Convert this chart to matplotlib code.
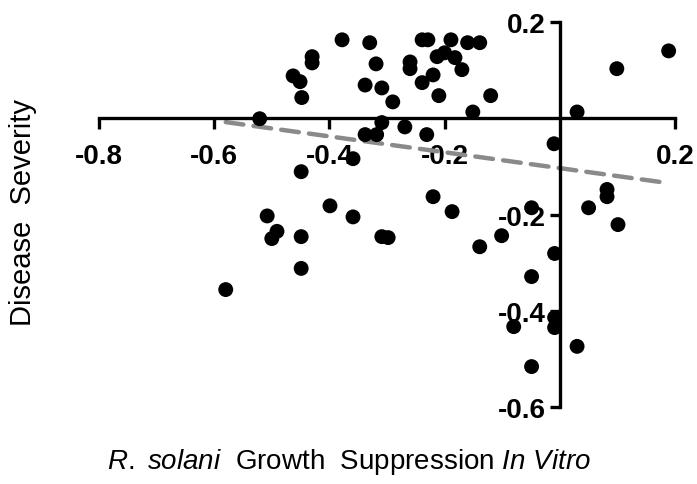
import numpy as np
import matplotlib
matplotlib.use("Agg")
import matplotlib.pyplot as plt

plt.rcParams['font.family'] = ['Liberation Sans', 'DejaVu Sans']
plt.rcParams['mathtext.fontset'] = 'custom'
plt.rcParams['mathtext.rm'] = 'Liberation Sans'
plt.rcParams['mathtext.it'] = 'Liberation Sans:italic'

# growth suppression (x) vs disease severity (y), one point per isolate
suppression = [-0.378, -0.330, -0.430, -0.430, -0.319, -0.463, -0.451, -0.448,
               -0.338, -0.309, -0.290, -0.260, -0.260, -0.239, -0.229, -0.189,
               -0.160, -0.139, -0.213, -0.200, -0.182, -0.170, -0.220, -0.239,
               -0.210, -0.120, -0.151, -0.309, -0.269, -0.338, -0.318, -0.231,
               -0.521, 0.030, 0.099, 0.189, -0.010, -0.359, -0.449, -0.399,
               -0.508, -0.359, -0.491, -0.500, -0.449, -0.449, -0.309, -0.298,
               -0.580, -0.220, -0.187, -0.049, 0.050, 0.082, 0.082, 0.101,
               -0.101, -0.139, -0.009, -0.049, -0.009, -0.009, -0.080, 0.030,
               -0.049]
severity = [0.163, 0.157, 0.128, 0.115, 0.113, 0.088, 0.076, 0.043,
            0.069, 0.063, 0.034, 0.117, 0.103, 0.163, 0.163, 0.163,
            0.157, 0.157, 0.128, 0.136, 0.126, 0.101, 0.090, 0.074,
            0.047, 0.047, 0.013, -0.009, -0.018, -0.034, -0.034, -0.034,
            -0.001, 0.013, 0.103, 0.140, -0.053, -0.084, -0.111, -0.182,
            -0.203, -0.205, -0.235, -0.250, -0.246, -0.312, -0.246, -0.248,
            -0.356, -0.163, -0.194, -0.186, -0.186, -0.148, -0.163, -0.221,
            -0.244, -0.267, -0.281, -0.329, -0.414, -0.435, -0.433, -0.474,
            -0.516]

# linear fit line endpoints
fit_x = [-0.58, 0.19]
fit_y = [-0.008, -0.135]

xticks = [-0.8, -0.6, -0.4, -0.2, 0.2]
yticks = [-0.6, -0.4, -0.2, 0.2]

fig = plt.figure(figsize=(6.97, 4.85), dpi=100)
ax = fig.add_axes([99/697, 77/485, 576/697, 385/485])

ax.plot(fit_x, fit_y, color='#8a8a8a', lw=3.2, dashes=(4, 2.3),
        dash_capstyle='round', zorder=2, clip_on=False)
ax.scatter(suppression, severity, s=115, color='black', edgecolors='none',
           zorder=3, clip_on=False)

ax.set_xlim(-0.8, 0.2)
ax.set_ylim(-0.6, 0.2)

for side in ['top', 'right']:
    ax.spines[side].set_visible(False)
ax.spines['left'].set_position(('data', 0))
ax.spines['bottom'].set_position(('data', 0))
for side in ['left', 'bottom']:
    ax.spines[side].set_linewidth(2.4)

ax.set_xticks(xticks)
ax.set_xticklabels(['%.1f' % v for v in xticks])
ax.set_yticks(yticks)
ax.set_yticklabels(['%.1f' % v for v in yticks])
ax.tick_params(axis='x', direction='out', length=8, width=2.4, pad=10,
               labelsize=20)
ax.tick_params(axis='y', direction='out', length=7, width=2.4, pad=3,
               labelsize=20)
for lab in ax.get_xticklabels() + ax.get_yticklabels():
    lab.set_fontweight('bold')

fig.text(23/697, 1 - 212/485, 'Disease  Severity', rotation=90,
         ha='center', va='center', fontsize=21)
fig.text(349/697, 1 - 462/485,
         r'$\mathit{R.\ solani}$  Growth  Suppression $\mathit{In\ Vitro}$',
         ha='center', va='center', fontsize=20)

fig.savefig('out.png', dpi=100)
